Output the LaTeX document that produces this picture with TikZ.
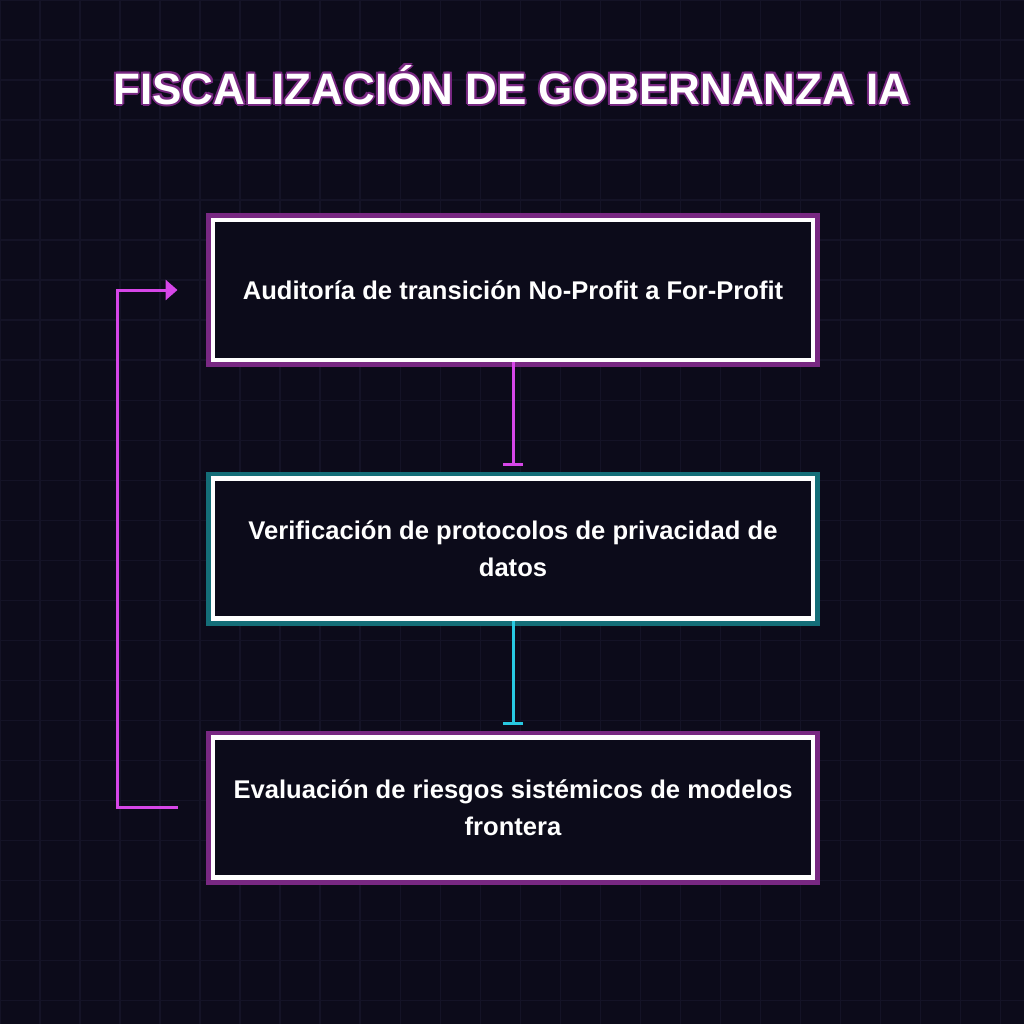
\documentclass[tikz,border=0pt]{standalone}
\usepackage{fontspec}
\setmainfont{Liberation Sans}
\usetikzlibrary{positioning, arrows.meta, backgrounds}
\definecolor{ink}{RGB}{12,11,26}
\definecolor{gridline}{RGB}{20,19,38}
\definecolor{neonpink}{RGB}{214,70,232}
\definecolor{glowpink}{RGB}{120,40,130}
\definecolor{neoncyan}{RGB}{40,200,225}
\definecolor{glowcyan}{RGB}{20,110,120}

\tikzset{
  stepbox/.style={
    draw=white, line width=1.2mm, fill=ink,
    minimum width=15cm, minimum height=3.5cm,
    align=center, text=white,
    font=\bfseries\fontsize{18.2}{26}\selectfont,
  },
  pinkglow/.style={preaction={draw=glowpink, line width=3.6mm}},
  cyanglow/.style={preaction={draw=glowcyan, line width=3.6mm}},
  titletext/.style={font=\bfseries\fontsize{31.3}{36}\selectfont},
  link/.style={line width=0.75mm},
}

\begin{document}
\begin{tikzpicture}[x=0.025cm, y=-0.025cm]
\fill[ink] (0,0) rectangle (1024,1024);
\useasboundingbox (0,0) rectangle (1024,1024);
\draw[gridline, line width=0.3mm, step=1cm] (0,0) grid (1024,1024);

% title
\foreach \dx/\dy in {-2/0, 2/0, 0/-2, 0/2, -1.5/-1.5, 1.5/1.5, -1.5/1.5, 1.5/-1.5}
  \node[text=glowpink, titletext] at (512+\dx,85+\dy) {FISCALIZACIÓN DE GOBERNANZA IA};
\node (title)[text=white, titletext] at (512,85) {FISCALIZACIÓN DE GOBERNANZA IA};

% boxes
\node (audit)[stepbox, pinkglow] at (513,290) {Auditoría de transición No-Profit a For-Profit};
\node (privacy)[stepbox, cyanglow, below=2.85cm of audit] {Verificación de protocolos de privacidad de\\datos};
\node (risk)[stepbox, pinkglow, below=2.85cm of privacy] {Evaluación de riesgos sistémicos de modelos\\frontera};

% connectors
\draw[link, neonpink, -{Bar[width=5mm]}] (audit.south) -- ([yshift=2.5mm]privacy.north);
\draw[link, neoncyan, -{Bar[width=5mm]}] (privacy.south) -- ([yshift=2.5mm]risk.north);
\coordinate (riskout) at ([xshift=-8.25mm]risk.west);
\coordinate (auditin) at ([xshift=-8.25mm]audit.west);
\draw[link, neonpink, -{Triangle[length=3mm, width=5mm]}] (riskout) -- ++(-60,0) |- (auditin);
\end{tikzpicture}
\end{document}
